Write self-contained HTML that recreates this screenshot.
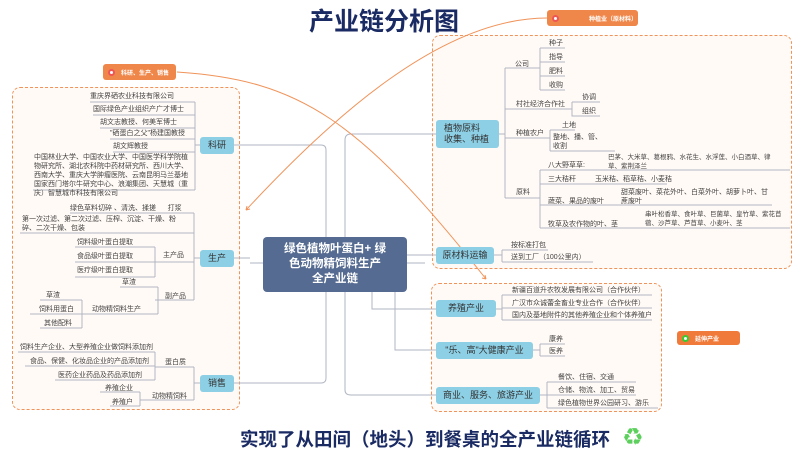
<!DOCTYPE html>
<html><head><meta charset="utf-8"><style>
*{margin:0;padding:0;box-sizing:border-box}
body{width:800px;height:457px;background:#fff;position:relative;overflow:hidden;font-family:"Liberation Sans","Noto Sans CJK SC",sans-serif;color:#444}
.t{position:absolute;font-size:7px;line-height:9px;white-space:nowrap}
.w{white-space:normal}
.n{position:absolute;background:#8dcfe5;border-radius:3px;color:#333;font-size:9px;display:flex;align-items:center;justify-content:center;text-align:center;line-height:11px}
.box{position:absolute;border:1.3px dashed #f0935a;border-radius:8px;background:#fffaf6}
.tag{position:absolute;background:#f0874a;border-radius:3px;color:#fff;font-size:6px;font-weight:bold;display:flex;align-items:center;padding-left:5px;white-space:nowrap;overflow:hidden}
.tag i{display:inline-block;width:7px;height:7px;border-radius:50%;background:#fff;margin-right:6px;border:2px solid #e55;flex:none}
svg{position:absolute;left:0;top:0}
</style></head><body>
<div class="box" style="left:12px;top:87px;width:228px;height:323px"></div>
<div class="box" style="left:432px;top:35px;width:360px;height:234px"></div>
<div class="box" style="left:431px;top:283px;width:231px;height:129px"></div>

<svg width="800" height="457" fill="none" stroke="#b0b6c4" stroke-width="1">
<path d="M263 263 H250 M326 237 V150 Q326 145 321 145 H234 M326 292 V378 Q326 383 321 383 H234 M250 258 H234 M345 237 V140 Q345 134 351 134 H436 M345 292 V390 Q345 395 351 395 H436 M372 237 V260 Q372 255 376 255 H436 M372 292 V309 H436 M395 292 V350 H436 M407 263 H425"/>
<path d="M200 145 H195 M195 102 V190 M90 102 H195 M93 115 H195 M100 128 H195 M110 139 H195 M113 152 H195 M33 190 H195"/>
<path d="M200 258 H194 M194 213 V300 M70 213 H194 M20 233 H194 M155 262 H194 M155 247 V277 M75 247 H155 M75 262 H155 M75 277 H155 M155 300 H194 M158 300 H155 M158 287 V314 M120 287 H158 M30 314 H158 M80 314 H82 M82 300 V328 M40 300 H82 M35 314 H82 M40 328 H82"/>
<path d="M200 383 H194 M194 367 V400 M155 367 H194 M155 352 V380 M18 352 H155 M25 366 H155 M55 380 H155 M140 400 H194 M140 392 V406 M100 392 H140 M110 406 H140"/>
<path d="M499 134 H505 M505 68 V198 M505 68 H540 M540 48 V90 M540 48 H565 M540 62 H565 M540 76 H565 M540 90 H565 M505 109 H572 M572 102 V116 H600 M572 102 H600 M505 138 H550 M550 130 V151 M550 130 H575 M550 151 H615 M505 198 H540 M540 170 V228 M540 170 H790 M540 184 H667 M540 205 H772 M540 228 H790"/>
<path d="M494 255 H502 M502 250 V262 M502 250 H548 M502 262 H593"/>
<path d="M496 309 H502 M502 295 V320 M502 295 H652 M502 308 H652 M502 320 H652"/>
<path d="M533 350 H540 M540 344 V356 M540 344 H565 M540 356 H565"/>
<path d="M540 395 H547 M547 382 V408 M547 382 H636 M547 395 H636 M547 408 H658"/>
<path d="M547 18 C440 18 330 120 246 210" stroke="#f0935a"/>
<path d="M246 210 l4 -1 M246 210 l1 -4" stroke="#f0935a"/>
<path d="M177 72 C300 80 360 120 486 279" stroke="#f0935a"/>
<path d="M486 279 l-1 -4 M486 279 l-4 -1" stroke="#f0935a"/>
</svg>

<div style="position:absolute;left:309px;top:2px;font-size:25px;font-weight:bold;color:#1a2a63">产业链分析图</div>
<div class="tag" style="left:547px;top:10px;width:91px;height:16px"><i></i><span style="margin-left:24px">种植业（原材料）</span></div>
<div class="tag" style="left:103px;top:64px;width:73px;height:16px"><i></i>科研、生产、销售</div>
<div class="tag" style="left:677px;top:331px;width:63px;height:14px;background:#f07a3a"><i style="border-color:#3c3"></i>延伸产业</div>

<div class="n" style="left:263px;top:237px;width:144px;height:55px;background:#556b91;color:#fff;font-size:11.5px;line-height:15px;font-weight:bold;border-radius:4px">绿色植物叶蛋白+ 绿<br>色动物精饲料生产<br>全产业链</div>
<div class="n" style="left:200px;top:137px;width:34px;height:17px">科研</div>
<div class="n" style="left:200px;top:250px;width:34px;height:17px">生产</div>
<div class="n" style="left:200px;top:375px;width:34px;height:17px">销售</div>
<div class="n" style="left:436px;top:120px;width:63px;height:28px;text-align:left;justify-content:flex-start;padding-left:8px">植物原料<br>收集、种植</div>
<div class="n" style="left:436px;top:247px;width:58px;height:17px">原材料运输</div>
<div class="n" style="left:436px;top:300px;width:60px;height:17px">养殖产业</div>
<div class="n" style="left:436px;top:342px;width:97px;height:17px">"乐、高"大健康产业</div>
<div class="n" style="left:436px;top:387px;width:104px;height:17px">商业、服务、旅游产业</div>

<div class="t" style="left:90px;top:92px">重庆界硒农业科技有限公司</div>
<div class="t" style="left:93px;top:105px">国际绿色产业组织产广才博士</div>
<div class="t" style="left:100px;top:118px">胡文志教授、何美军博士</div>
<div class="t" style="left:110px;top:129px">"硒蛋白之父"杨建国教授</div>
<div class="t" style="left:113px;top:142px">胡文辉教授</div>
<div class="t w" style="left:34px;top:153px;width:156px">中国林业大学、中国农业大学、中国医学科学院植物研究所、湖北农科院中药材研究所、西川大学、西南大学、重庆大学肿瘤医院、云南昆明马兰基地国家西门塔尔牛研究中心、浪潮集团、天慧城（重庆）智慧城市科技有限公司</div>
<div class="t" style="left:70px;top:204px">绿色草料切碎 、清洗、揉搓 &nbsp;&nbsp;&nbsp;&nbsp; 打浆</div>
<div class="t w" style="left:22px;top:215px;width:160px">第一次过滤、第二次过滤、压榨、沉淀、干燥、粉碎、二次干燥、包装</div>
<div class="t" style="left:77px;top:238px">饲料级叶蛋白提取</div>
<div class="t" style="left:77px;top:252px">食品级叶蛋白提取</div>
<div class="t" style="left:77px;top:266px">医疗级叶蛋白提取</div>
<div class="t" style="left:163px;top:251px">主产品</div>
<div class="t" style="left:122px;top:278px">草渣</div>
<div class="t" style="left:165px;top:292px">副产品</div>
<div class="t" style="left:46px;top:291px">草渣</div>
<div class="t" style="left:39px;top:305px">饲料用蛋白</div>
<div class="t" style="left:92px;top:305px">动物精饲料生产</div>
<div class="t" style="left:44px;top:319px">其他配料</div>
<div class="t" style="left:20px;top:343px">饲料生产企业、大型养殖企业做饲料添加剂</div>
<div class="t" style="left:30px;top:357px">食品、保健、化妆品企业的产品添加剂</div>
<div class="t" style="left:165px;top:358px">蛋白质</div>
<div class="t" style="left:58px;top:371px">医药企业药品及药品添加剂</div>
<div class="t" style="left:105px;top:384px">养殖企业</div>
<div class="t" style="left:152px;top:392px">动物精饲料</div>
<div class="t" style="left:112px;top:398px">养殖户</div>
<div class="t" style="left:515px;top:60px">公司</div>
<div class="t" style="left:549px;top:39px">种子</div>
<div class="t" style="left:549px;top:53px">指导</div>
<div class="t" style="left:549px;top:67px">肥料</div>
<div class="t" style="left:549px;top:81px">收购</div>
<div class="t" style="left:516px;top:100px">村社经济合作社</div>
<div class="t" style="left:582px;top:93px">协调</div>
<div class="t" style="left:582px;top:107px">组织</div>
<div class="t" style="left:516px;top:129px">种植农户</div>
<div class="t" style="left:562px;top:121px">土地</div>
<div class="t" style="left:553px;top:133px">整地、播、管、<br>收割</div>
<div class="t" style="left:548px;top:161px">八大野草草:</div>
<div class="t" style="left:608px;top:153px;font-size:6.5px">巴茅、大米草、葛根鸦、水花生、水浮莲、小白酒草、律<br>草、紫荆泽兰</div>
<div class="t" style="left:516px;top:188px">原料</div>
<div class="t" style="left:548px;top:175px">三大秸秆</div>
<div class="t" style="left:595px;top:175px">玉米秸、稻草秸、小麦秸</div>
<div class="t" style="left:548px;top:197px">蔬菜、果品的废叶</div>
<div class="t" style="left:621px;top:188px">甜菜废叶、菜花外叶、白菜外叶、胡萝卜叶、甘<br>蔗废叶</div>
<div class="t" style="left:548px;top:220px">牧草及农作物的叶、茎</div>
<div class="t" style="left:645px;top:210px;font-size:6.5px">串叶松香草、食叶草、巨菌草、皇竹草、紫花苜<br>蓿、沙芦草、芦苜草、小麦叶、茎</div>
<div class="t" style="left:511px;top:241px">按标准打包</div>
<div class="t" style="left:511px;top:253px">送到工厂（100公里内）</div>
<div class="t" style="left:512px;top:286px">新疆百道升农牧发展有限公司（合作伙伴）</div>
<div class="t" style="left:512px;top:299px">广汉市众诚蕾金畜业专业合作（合作伙伴）</div>
<div class="t" style="left:512px;top:311px">国内及基地附件的其他养殖企业和个体养殖户</div>
<div class="t" style="left:549px;top:335px">康养</div>
<div class="t" style="left:549px;top:347px">医养</div>
<div class="t" style="left:558px;top:373px">餐饮、住宿、交通</div>
<div class="t" style="left:558px;top:386px">仓储、物流、加工、贸易</div>
<div class="t" style="left:558px;top:399px">绿色植物世界公园研习、游乐</div>

<div style="position:absolute;left:240px;top:426px;font-size:18.5px;font-weight:bold;color:#1a2a63;white-space:nowrap">实现了从田间（地头）到餐桌的全产业链循环</div>
<div style="position:absolute;left:622px;top:424px;font-size:24px;line-height:26px;color:#5ccf5c;font-family:'DejaVu Sans',sans-serif">♻</div>
</body></html>
